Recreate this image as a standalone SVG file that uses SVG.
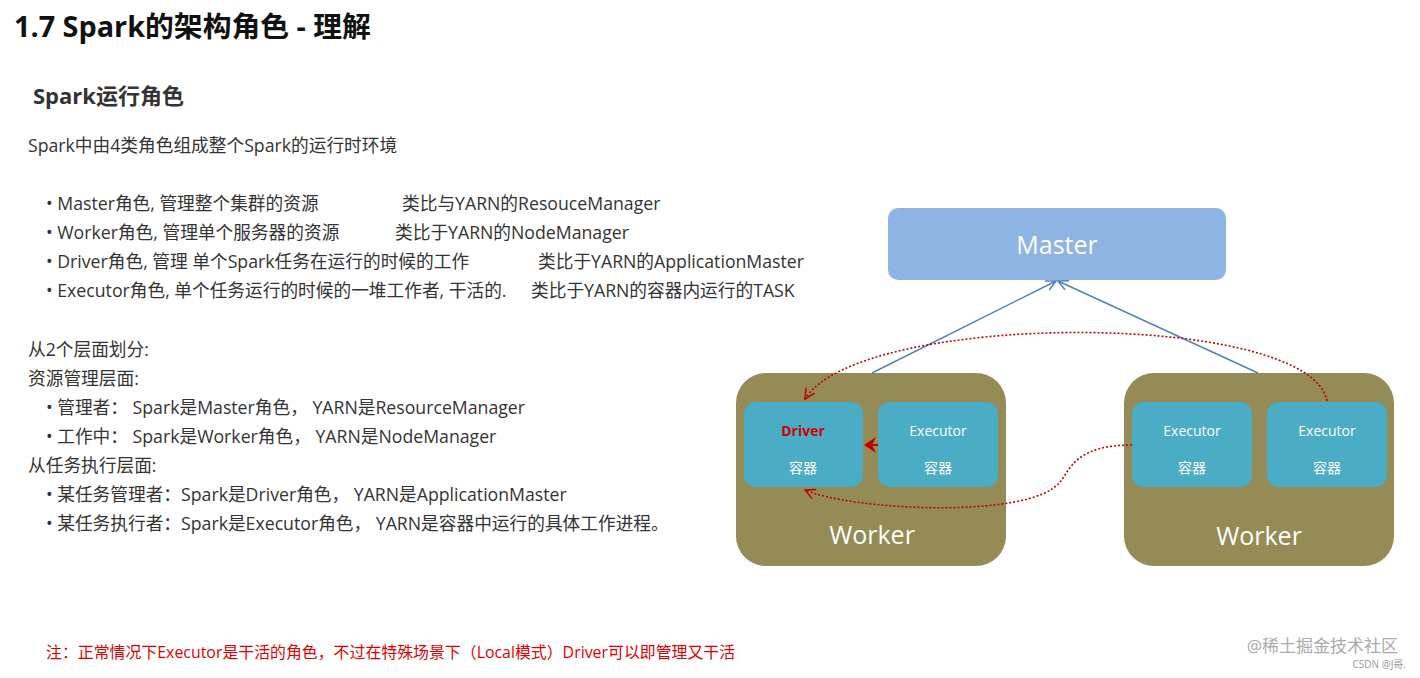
<svg xmlns="http://www.w3.org/2000/svg" width="1420" height="678" viewBox="0 0 1420 678">
<defs>
<style>
text{font-family:"Open Sans","Noto Sans CJK SC",sans-serif;}
.b{font-size:17.7px;fill:#333;}
.w{fill:#958b56;}
.c{fill:#4bacc6;}
.ct{font-size:14px;fill:#fff;text-anchor:middle;}
.dot{fill:none;stroke:#c00000;stroke-width:1.6;stroke-dasharray:2 2;}
</style>
<marker id="oa" viewBox="0 0 12 12" refX="11" refY="6" markerWidth="12" markerHeight="12" markerUnits="userSpaceOnUse" orient="auto"><path d="M1,1 L11,6 L1,11" fill="none" stroke="#c00000" stroke-width="1.5"/></marker>
<marker id="ba" viewBox="0 0 12 12" refX="11" refY="6" markerWidth="12" markerHeight="12" markerUnits="userSpaceOnUse" orient="auto"><path d="M1,1 L11,6 L1,11" fill="none" stroke="#4f81bd" stroke-width="1.5"/></marker>
</defs>
<rect width="1420" height="678" fill="#fff"/>
<text x="14" y="37" font-size="28.8" font-weight="bold" fill="#111">1.7 Spark的架构角色 - 理解</text>
<text x="33" y="104" font-size="22" font-weight="bold" fill="#333">Spark运行角色</text>
<g class="b">
<text x="28" y="152">Spark中由4类角色组成整个Spark的运行时环境</text>
<text x="46" y="210">•  Master角色, 管理整个集群的资源</text><text x="402" y="210">类比与YARN的ResouceManager</text>
<text x="46" y="239">•  Worker角色, 管理单个服务器的资源</text><text x="395" y="239">类比于YARN的NodeManager</text>
<text x="46" y="268">•  Driver角色, 管理 单个Spark任务在运行的时候的工作</text><text x="538" y="268">类比于YARN的ApplicationMaster</text>
<text x="46" y="297">•  Executor角色, 单个任务运行的时候的一堆工作者, 干活的.</text><text x="531" y="297">类比于YARN的容器内运行的TASK</text>
<text x="28" y="356">从2个层面划分:</text>
<text x="28" y="385">资源管理层面:</text>
<text x="46" y="414">•  管理者： Spark是Master角色， YARN是ResourceManager</text>
<text x="46" y="443">•  工作中： Spark是Worker角色， YARN是NodeManager</text>
<text x="28" y="472">从任务执行层面:</text>
<text x="46" y="501">•  某任务管理者：Spark是Driver角色， YARN是ApplicationMaster</text>
<text x="46" y="530">•  某任务执行者：Spark是Executor角色， YARN是容器中运行的具体工作进程。</text>
</g>
<text x="46" y="658" font-size="15.9" fill="#e00000">注：正常情况下Executor是干活的角色，不过在特殊场景下（Local模式）Driver可以即管理又干活</text>
<g id="master"><rect x="888" y="208" width="338" height="72" rx="10" fill="#8eb4e3"/><text x="1057" y="254" font-size="25" fill="#fff" text-anchor="middle">Master</text></g>
<g id="worker1"><rect class="w" x="736" y="373" width="270" height="193" rx="30"/><text x="872" y="544" font-size="25" fill="#fff" text-anchor="middle">Worker</text>
<g id="driver"><rect class="c" x="744" y="402" width="119" height="85" rx="12"/><text x="803" y="436" font-size="14" font-weight="bold" fill="#d00000" text-anchor="middle">Driver</text><text class="ct" x="803" y="473">容器</text></g>
<g id="exec1"><rect class="c" x="878" y="402" width="120" height="85" rx="12"/><text class="ct" x="938" y="436">Executor</text><text class="ct" x="938" y="473">容器</text></g></g>
<g id="worker2"><rect class="w" x="1124" y="373" width="270" height="193" rx="30"/><text x="1259" y="545" font-size="25" fill="#fff" text-anchor="middle">Worker</text>
<g id="exec2"><rect class="c" x="1132" y="402" width="120" height="85" rx="12"/><text class="ct" x="1192" y="436">Executor</text><text class="ct" x="1192" y="473">容器</text></g>
<g id="exec3"><rect class="c" x="1267" y="402" width="120" height="85" rx="12"/><text class="ct" x="1327" y="436">Executor</text><text class="ct" x="1327" y="473">容器</text></g></g>
<g id="connectors">
<line x1="872" y1="373" x2="1056" y2="281" stroke="#4f81bd" stroke-width="1.5" marker-end="url(#ba)"/>
<line x1="1258" y1="373" x2="1058" y2="281" stroke="#4f81bd" stroke-width="1.5" marker-end="url(#ba)"/>
<path class="dot" d="M1327,401 C1310,310 860,310 805,399" marker-end="url(#oa)"/>
<path class="dot" d="M1132,445 C1075,445 1070,470 1060,482 C1030,520 850,510 805,490" marker-end="url(#oa)"/>
<path d="M878,445 L866,445" stroke="#c00000" stroke-width="2"/><path d="M876,437 L864,445 L876,453 L872,445 Z" fill="#c00000"/>
</g>
<text x="1398" y="652" font-size="17" fill="#aaa" text-anchor="end">@稀土掘金技术社区</text>
<text x="1406" y="668" font-size="10" fill="#999" text-anchor="end">CSDN @J哥.</text>
</svg>
